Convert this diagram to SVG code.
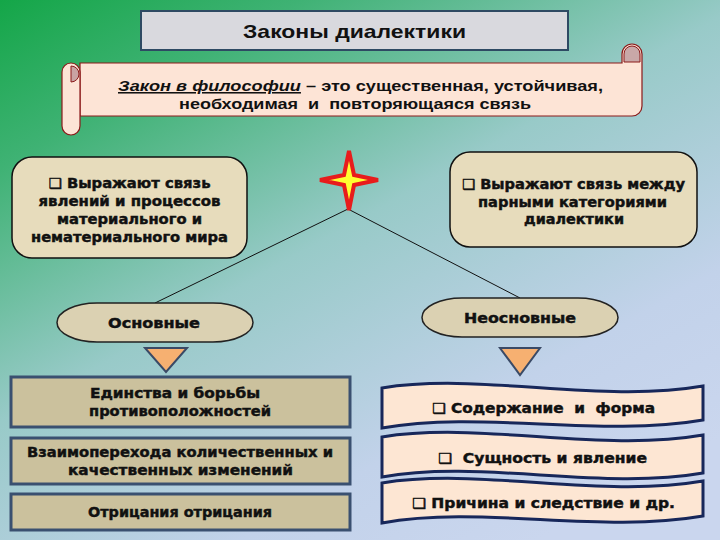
<svg xmlns="http://www.w3.org/2000/svg" width="720" height="540" viewBox="0 0 720 540">
<defs>
<linearGradient id="bg" x1="0" y1="0" x2="0.75" y2="1">
<stop offset="0" stop-color="#14a648"/>
<stop offset="0.2" stop-color="#3fb274"/>
<stop offset="0.5" stop-color="#98cac8"/>
<stop offset="0.8" stop-color="#c2d2ea"/>
<stop offset="1" stop-color="#cad6ee"/>
</linearGradient>
<style>
.t{font-family:"DejaVu Sans","Liberation Sans",sans-serif;font-weight:bold;font-size:14px;fill:#111;stroke:#111;stroke-width:0.45;text-anchor:middle}
.s{font-family:"Liberation Sans",Arial,sans-serif;font-weight:bold;fill:#111;text-anchor:middle}
.beige{fill:#e7dcbc;stroke:#111;stroke-width:1.5}
.oval{fill:#dbd1b2;stroke:#222;stroke-width:1.5}
.khaki{fill:#cbc19d;stroke:#3a5070;stroke-width:3}
.wave{fill:#fde6d3;stroke:#17275a;stroke-width:3}
.tri{fill:#f6b071;stroke:#3a4a66;stroke-width:2}
.conn{stroke:#111;stroke-width:1;fill:none}
.scroll{fill:#fde4d6;stroke:#8b1a1a;stroke-width:1.2}
</style>
</defs>
<rect width="720" height="540" fill="url(#bg)"/>

<g id="title">
<rect x="141" y="11" width="427" height="39" fill="#d9d9de" stroke="#2e4a63" stroke-width="2"/>
<text class="s" x="354.5" y="38" font-size="19" textLength="223" lengthAdjust="spacingAndGlyphs">Законы диалектики</text>
</g>

<g id="scroll">
<path class="scroll" d="M 80 63 H 622 V 54 A 10 10 0 0 1 642 54 V 106 A 10 10 0 0 1 632 116 H 80 Z"/>
<rect class="scroll" x="62" y="63" width="18" height="72" rx="9"/>
<path d="M 71 66 A 8 8 0 0 1 79 74 A 8 8 0 0 1 71 82 Z" fill="#c9a3a3" stroke="#8b1a1a" stroke-width="1"/>
<path d="M 632 46 A 8 8 0 0 1 640 54 V 62 H 624 V 54 A 8 8 0 0 1 632 46 Z" fill="#c9a8a8" stroke="#8b1a1a" stroke-width="1"/>
<text class="s" font-size="15.5" x="360.5" y="91" textLength="485" lengthAdjust="spacingAndGlyphs"><tspan font-style="italic" text-decoration="underline">Закон в философии</tspan> – это существенная, устойчивая,</text>
<text class="s" font-size="15.5" x="355" y="109" textLength="352" lengthAdjust="spacingAndGlyphs" xml:space="preserve">необходимая  и  повторяющаяся связь</text>
</g>

<g id="connectors">
<line class="conn" x1="348" y1="209" x2="155" y2="303"/>
<line class="conn" x1="348" y1="209" x2="520" y2="298"/>
</g>

<g id="star">
<path d="M 349 151 L 354 175 L 378 180 L 354 185 L 349 210 L 344 185 L 320 180 L 344 175 Z" fill="#ffff30" stroke="#e81c1c" stroke-width="4" stroke-linejoin="miter"/>
</g>

<g id="box-left">
<rect class="beige" x="12" y="157" width="235" height="101" rx="20"/>
<text class="t" x="129.5" y="188" textLength="162" lengthAdjust="spacingAndGlyphs">❑ Выражают связь</text>
<text class="t" x="129.5" y="206" textLength="182" lengthAdjust="spacingAndGlyphs">явлений и процессов</text>
<text class="t" x="129.5" y="224" textLength="145" lengthAdjust="spacingAndGlyphs">материального и</text>
<text class="t" x="129.5" y="242" textLength="197" lengthAdjust="spacingAndGlyphs">нематериального мира</text>
</g>

<g id="box-right">
<rect class="beige" x="450" y="152" width="247" height="95" rx="20"/>
<text class="t" x="573.5" y="189" textLength="223" lengthAdjust="spacingAndGlyphs">❑ Выражают связь между</text>
<text class="t" x="572.5" y="207" textLength="189" lengthAdjust="spacingAndGlyphs">парными категориями</text>
<text class="t" x="574" y="224" textLength="100" lengthAdjust="spacingAndGlyphs">диалектики</text>
</g>

<g id="osnovnye">
<rect class="oval" x="57" y="303" width="196" height="39" rx="40" ry="19.5"/>
<text class="t" x="154" y="328" textLength="92" lengthAdjust="spacingAndGlyphs">Основные</text>
</g>

<g id="neosnovnye">
<rect class="oval" x="422" y="298" width="196" height="39" rx="40" ry="19.5"/>
<text class="t" x="520" y="323" textLength="112" lengthAdjust="spacingAndGlyphs">Неосновные</text>
</g>

<g id="tri-left">
<polygon class="tri" points="145,348 187,348 166,372"/>
</g>
<g id="tri-right">
<polygon class="tri" points="500,348 540,348 520,375"/>
</g>

<g id="law1">
<rect class="khaki" x="11" y="377" width="339" height="50"/>
<text class="t" x="175" y="398" textLength="170" lengthAdjust="spacingAndGlyphs">Единства и борьбы</text>
<text class="t" x="180" y="416" textLength="182" lengthAdjust="spacingAndGlyphs">противоположностей</text>
</g>
<g id="law2">
<rect class="khaki" x="11" y="438" width="339" height="46"/>
<text class="t" x="180" y="457" textLength="306" lengthAdjust="spacingAndGlyphs">Взаимоперехода количественных и</text>
<text class="t" x="180.5" y="475" textLength="225" lengthAdjust="spacingAndGlyphs">качественных изменений</text>
</g>
<g id="law3">
<rect class="khaki" x="11" y="494" width="339" height="36"/>
<text class="t" x="180" y="517" textLength="184" lengthAdjust="spacingAndGlyphs">Отрицания отрицания</text>
</g>

<g id="pair1" transform="translate(0,388)">
<path class="wave" d="M 382 0 C 480 -16 600 16 703 -2 L 703 32 C 600 50 480 22 382 40 Z"/>
<text class="t" x="543.5" y="25" font-size="15" textLength="223" lengthAdjust="spacingAndGlyphs" xml:space="preserve">❑ Содержание  и  форма</text>
</g>
<g id="pair2" transform="translate(0,437)">
<path class="wave" d="M 382 0 C 480 -16 600 16 703 -2 L 703 36 C 600 54 480 22 382 40 Z"/>
<text class="t" x="542.5" y="26" font-size="15" textLength="209" lengthAdjust="spacingAndGlyphs" xml:space="preserve">❑  Сущность и явление</text>
</g>
<g id="pair3" transform="translate(0,483)">
<path class="wave" d="M 382 0 C 480 -16 600 16 703 -2 L 703 33 C 600 51 480 22 382 40 Z"/>
<text class="t" x="543.5" y="25" font-size="15" textLength="263" lengthAdjust="spacingAndGlyphs">❑ Причина и следствие и др.</text>
</g>
</svg>
